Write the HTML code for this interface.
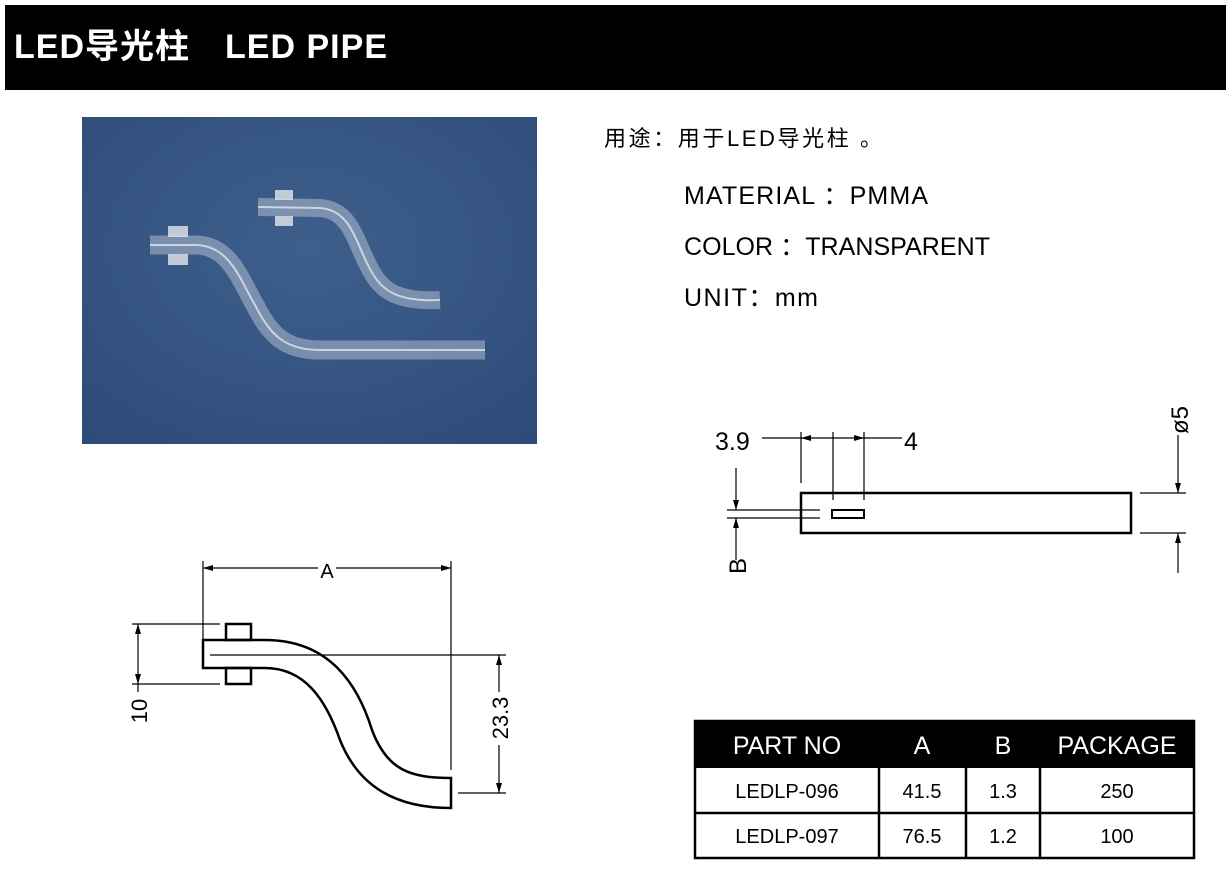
<!DOCTYPE html>
<html><head><meta charset="utf-8"><style>
body{margin:0;background:#fff;width:1228px;height:877px;overflow:hidden}
svg{display:block}
text{font-family:"Liberation Sans","Noto Sans CJK SC",sans-serif}
</style></head><body>
<svg width="1228" height="877" viewBox="0 0 1228 877" xmlns="http://www.w3.org/2000/svg">
<defs>
<marker id="ar" viewBox="0 0 10 6" refX="10" refY="3" markerWidth="12" markerHeight="6" markerUnits="userSpaceOnUse" orient="auto-start-reverse"><path d="M0,0 L10,3 L0,6 Z" fill="#000"/></marker>
<radialGradient id="bg" cx="0.5" cy="0.4" r="0.8"><stop offset="0" stop-color="#3e5f8c"/><stop offset="1" stop-color="#2c4a78"/></radialGradient>
</defs>
<rect x="5" y="5" width="1221" height="85" fill="#000"/>
<text x="14" y="58" fill="#fff" font-size="34" font-weight="bold" textLength="373" lengthAdjust="spacing">LED导光柱　LED PIPE</text>

<rect x="82" y="117" width="455" height="327" fill="url(#bg)"/>
<g fill="none" stroke-linecap="butt">
<path d="M150,245 L195,245 C230,245 240,280 255,305 C270,335 285,350 320,350 L485,350" stroke="#c9d3de" stroke-width="19" opacity="0.45"/>
<path d="M150,245 L195,245 C230,245 240,280 255,305 C270,335 285,350 320,350 L485,350" stroke="#eef2f6" stroke-width="2" opacity="0.7"/>
<path d="M258,207 L320,208 C350,210 355,240 368,265 C380,290 395,302 440,300" stroke="#c9d3de" stroke-width="18" opacity="0.45"/>
<path d="M258,207 L320,208 C350,210 355,240 368,265 C380,290 395,302 440,300" stroke="#eef2f6" stroke-width="2" opacity="0.7"/>
</g>
<rect x="168" y="226" width="20" height="11" fill="#d9dfe6" opacity="0.85"/><rect x="168" y="254" width="20" height="11" fill="#d9dfe6" opacity="0.85"/>
<rect x="275" y="190" width="18" height="10" fill="#d9dfe6" opacity="0.85"/><rect x="275" y="216" width="18" height="10" fill="#d9dfe6" opacity="0.85"/>

<text x="604" y="146" font-size="22" textLength="278" lengthAdjust="spacing">用途：用于LED导光柱 。</text>
<text x="684" y="204" font-size="25" textLength="244" lengthAdjust="spacing">MATERIAL ：PMMA</text>
<text x="684" y="255" font-size="25" textLength="306" lengthAdjust="spacing">COLOR ：TRANSPARENT</text>
<text x="684" y="306" font-size="25" textLength="134" lengthAdjust="spacing">UNIT：mm</text>

<!-- left drawing -->
<g stroke="#000" fill="none" stroke-width="1.2">
<line x1="203" y1="561" x2="203" y2="640"/>
<line x1="451" y1="561" x2="451" y2="770"/>
<line x1="203" y1="568" x2="318" y2="568" marker-start="url(#ar)"/>
<line x1="336" y1="568" x2="451" y2="568" marker-end="url(#ar)"/>
<line x1="132" y1="624" x2="220" y2="624"/>
<line x1="132" y1="684" x2="220" y2="684"/>
<line x1="138" y1="624" x2="138" y2="684" marker-start="url(#ar)" marker-end="url(#ar)"/>
<line x1="138" y1="684" x2="138" y2="692"/>
<line x1="210" y1="655" x2="506" y2="655"/>
<line x1="458" y1="793" x2="506" y2="793"/>
<line x1="499" y1="655" x2="499" y2="692" marker-start="url(#ar)"/>
<line x1="499" y1="745" x2="499" y2="793" marker-end="url(#ar)"/>
</g>
<g stroke="#000" fill="none" stroke-width="2.5">
<rect x="226" y="624" width="25" height="16"/>
<rect x="226" y="668" width="25" height="16"/>
<path d="M265,640 L203,640 L203,668 L265,668" />
<path d="M265,640 C330,640 358,685 372,730 C387,770 410,778 451,778 L451,808 C400,808 360,790 340,740 C326,700 305,668 265,668" fill="none"/>
</g>
<text x="327" y="578" font-size="20" text-anchor="middle">A</text>
<text transform="translate(147,711) rotate(-90)" font-size="22" text-anchor="middle">10</text>
<text transform="translate(508,718) rotate(-90)" font-size="22" text-anchor="middle">23.3</text>

<!-- right drawing -->
<g stroke="#000" fill="none" stroke-width="1.2">
<line x1="801" y1="432" x2="801" y2="483"/>
<line x1="833" y1="432" x2="833" y2="500"/>
<line x1="864" y1="432" x2="864" y2="500"/>
<line x1="762" y1="438" x2="801" y2="438"/>
<line x1="864" y1="438" x2="902" y2="438"/>
<line x1="833" y1="438" x2="801" y2="438" marker-end="url(#ar)"/>
<line x1="833" y1="438" x2="864" y2="438" marker-end="url(#ar)"/>
<line x1="727" y1="510" x2="820" y2="510"/>
<line x1="727" y1="518" x2="820" y2="518"/>
<line x1="736" y1="468" x2="736" y2="510" marker-end="url(#ar)"/>
<line x1="736" y1="560" x2="736" y2="518" marker-end="url(#ar)"/>
<line x1="1140" y1="493" x2="1186" y2="493"/>
<line x1="1140" y1="533" x2="1186" y2="533"/>
<line x1="1178" y1="435" x2="1178" y2="493" marker-end="url(#ar)"/>
<line x1="1178" y1="573" x2="1178" y2="533" marker-end="url(#ar)"/>
</g>
<g stroke="#000" fill="none" stroke-width="2.5">
<rect x="801" y="493" width="330" height="40"/>
<rect x="832" y="510" width="32" height="8" stroke-width="2"/>
</g>
<text x="715" y="450" font-size="25">3.9</text>
<text x="904" y="450" font-size="25">4</text>
<text transform="translate(746,566) rotate(-90)" font-size="24" text-anchor="middle">B</text>
<text transform="translate(1188,420) rotate(-90)" font-size="24" text-anchor="middle">ø5</text>

<!-- table -->
<rect x="694" y="721" width="501" height="47" fill="#000"/>
<g stroke="#000" stroke-width="2.5" fill="none">
<rect x="695" y="721" width="499" height="137"/>
<line x1="695" y1="813" x2="1194" y2="813"/>
<line x1="879" y1="768" x2="879" y2="858"/>
<line x1="966" y1="768" x2="966" y2="858"/>
<line x1="1040" y1="768" x2="1040" y2="858"/>
</g>
<g font-size="25" fill="#fff" text-anchor="middle">
<text x="787" y="754">PART NO</text><text x="922" y="754">A</text><text x="1003" y="754">B</text><text x="1117" y="754">PACKAGE</text>
</g>
<g font-size="20" text-anchor="middle">
<text x="787" y="798">LEDLP-096</text><text x="922" y="798">41.5</text><text x="1003" y="798">1.3</text><text x="1117" y="798">250</text>
<text x="787" y="843">LEDLP-097</text><text x="922" y="843">76.5</text><text x="1003" y="843">1.2</text><text x="1117" y="843">100</text>
</g>
</svg>
</body></html>
